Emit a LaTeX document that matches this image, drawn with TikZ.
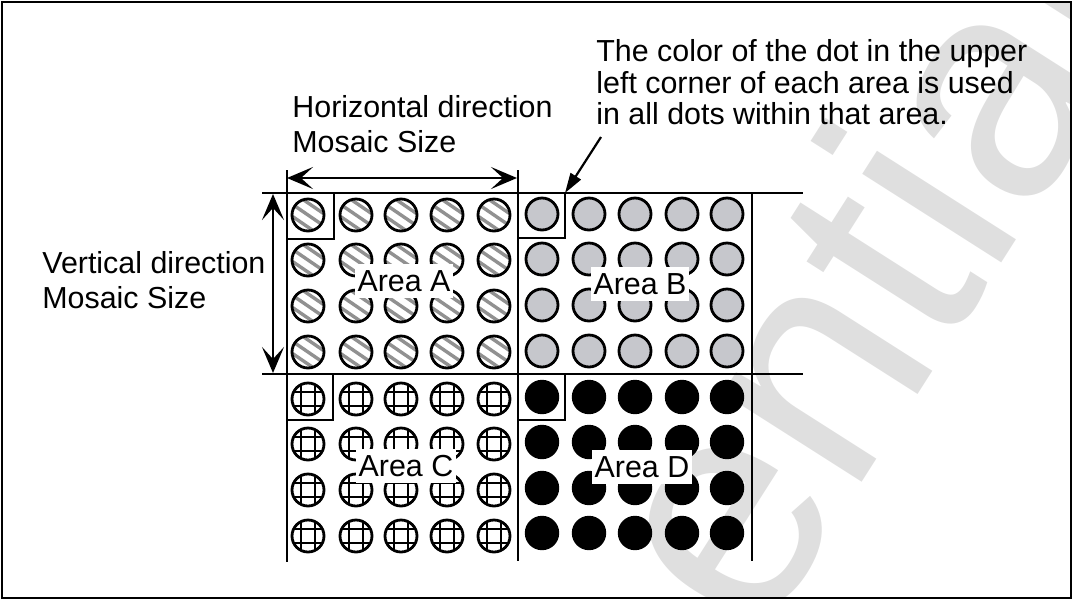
\documentclass[tikz,border=0pt]{standalone}
\usepackage{fontspec}
\setmainfont{Liberation Sans}
\usetikzlibrary{arrows.meta}

\definecolor{hatchgray}{RGB}{145,145,145}
\definecolor{dotgray}{RGB}{198,199,204}
\definecolor{markgray}{RGB}{223,223,223}

\newcommand{\mainsize}{\fontsize{15.2pt}{17.4pt}\selectfont}
\newcommand{\notesize}{\fontsize{15.2pt}{15.8pt}\selectfont}

\tikzset{
  gridline/.style={line width=1pt, black},
  frameline/.style={line width=1.2pt, black},
  dotrim/.style={line width=1.4pt, black},
  hatchline/.style={line width=1.7pt, hatchgray},
  crossline/.style={line width=1.2pt, black},
  areatag/.style={
    rectangle, fill=white, inner xsep=1.5pt, inner ysep=3pt, font=\mainsize
  },
  note/.style={align=left, inner sep=0pt, anchor=north west, font=\mainsize},
  watermark/.style={
    text=markgray, inner sep=0pt, anchor=base west,
    font=\fontsize{156pt}{156pt}\selectfont
  },
  dimarrow/.style={
    {Stealth[length=13pt,width=11pt,inset=6pt]}-{Stealth[length=13pt,width=11pt,inset=6pt]},
    line width=1.2pt
  },
  callout/.style={-{Triangle[length=10pt,width=6pt]}, line width=1.1pt}
}

% dot kinds, one per area
\newcommand{\hatchdot}[2]{%
  \begin{scope}[shift={(#1,#2)}]
    \clip (0,0) circle[radius=8pt];
    \foreach \k in {-1,0,1}
      \draw[hatchline] ({-19-5.7*\k},{-13+8.2*\k}) -- ({19-5.7*\k},{13+8.2*\k});
  \end{scope}
  \draw[dotrim] (#1,#2) circle[radius=8pt];}
\newcommand{\greydot}[2]{\draw[dotrim, fill=dotgray] (#1,#2) circle[radius=8pt];}
\newcommand{\crossdot}[2]{%
  \begin{scope}[shift={(#1,#2)}]
    \clip (0,0) circle[radius=8pt];
    \draw[crossline] (-7,-20) -- (-7,20) (7,-20) -- (7,20)
                     (-20,-7) -- (20,-7) (-20,7) -- (20,7);
  \end{scope}
  \draw[dotrim] (#1,#2) circle[radius=8pt];}
\newcommand{\fulldot}[2]{\fill[black] (#1,#2) circle[radius=8.6pt];}

\begin{document}
\begin{tikzpicture}[x=0.5pt, y=-0.5pt]
  \useasboundingbox (0,0) rectangle (1073,601);

  % watermark behind everything, only its visible part
  \begin{scope}
    \clip (3,3) rectangle (1070,597);
    \node[watermark, rotate=57.5] (wmark) at (757,647) {ential};
  \end{scope}

  % dots
  \foreach \x in {308,356,401,447,494}
    \foreach \y in {215,260,306,352} {\hatchdot{\x}{\y}}
  \foreach \x in {542,589,635,682,727}
    \foreach \y in {214,259,305,351} {\greydot{\x}{\y}}
  \foreach \x in {308,356,401,447,494}
    \foreach \y in {399,444,490,536} {\crossdot{\x}{\y}}
  \foreach \x in {542,589,635,682,727}
    \foreach \y in {397,442,488,533} {\fulldot{\x}{\y}}

  \node[areatag] (areaA) at (404,281) {Area A};
  \node[areatag] (areaB) at (640,284) {Area B};
  \node[areatag] (areaC) at (406,466) {Area C};
  \node[areatag] (areaD) at (642,467) {Area D};

  % area borders and the upper left dot boxes
  \draw[gridline] (262,193) -- (803,193) (262,374) -- (803,374);
  \draw[gridline] (287,170) -- (287,562) (518,170) -- (518,561)
                  (752,193) -- (752,561);
  \draw[gridline] (287,239) -| (334,193);
  \draw[gridline] (518,238) -| (565,193);
  \draw[gridline] (287,420) -| (333,374);
  \draw[gridline] (518,420) -| (565,374);
  \coordinate (cornerB) at (565,193);

  % texts
  \node[note] (hortext) at (292,95) {Horizontal direction\\Mosaic Size};
  \node[note] (vertext) at (42,251) {Vertical direction\\Mosaic Size};
  \node[note, font=\notesize] (cornertext) at (596,39)
    {The color of the dot in the upper\\left corner of each area is used\\in all dots within that area.};

  % dimensions and callout
  \coordinate (hdimL) at (287,178);
  \coordinate (hdimR) at (517,178);
  \coordinate (vdimT) at (273,194);
  \coordinate (vdimB) at (273,373);
  \draw[dimarrow] (hdimL) -- (hdimR);
  \draw[dimarrow] (vdimT) -- (vdimB);
  \coordinate (calloutfoot) at (601,137);
  \draw[callout] (calloutfoot) -- (cornerB);

  \draw[frameline] (2,2) rectangle (1071,598);
\end{tikzpicture}
\end{document}
